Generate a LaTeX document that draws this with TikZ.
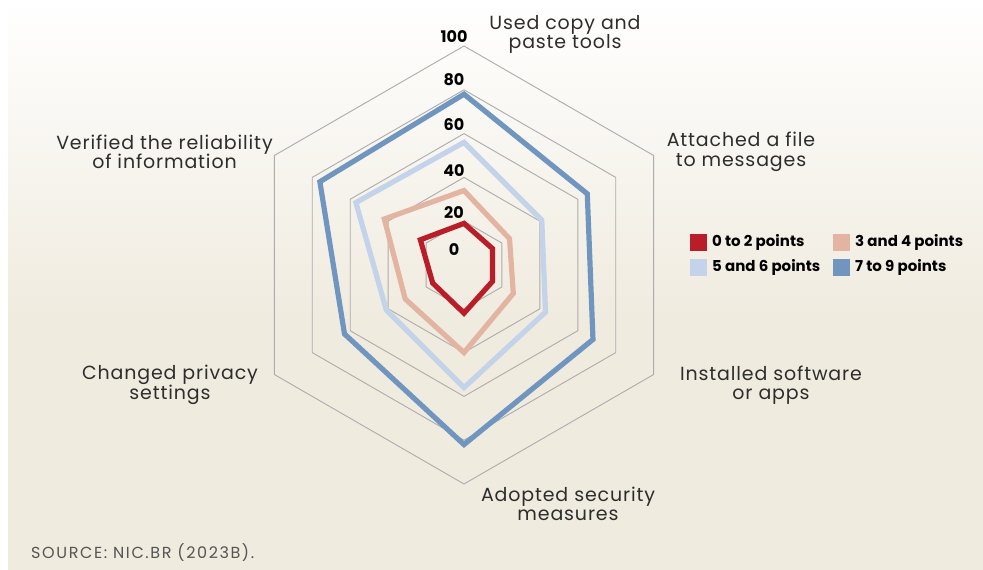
\documentclass[tikz,border=0pt]{standalone}
\usepackage{fontspec}
\setmainfont{Poppins}
\definecolor{bgbeige}{RGB}{240,235,223}
\definecolor{gridgrey}{RGB}{172,172,172}
\definecolor{cred}{RGB}{185,30,40}
\definecolor{cpink}{RGB}{228,180,163}
\definecolor{clblue}{RGB}{195,211,233}
\definecolor{cdblue}{RGB}{112,150,191}
\definecolor{labelgrey}{RGB}{45,45,45}
\definecolor{srcgrey}{RGB}{85,85,85}
\newcommand\radarpoly[7]{%
  \draw[series, draw=#1, shift={(464,305)}] (90:{#2*2.19}) -- (30:{#3*2.19}) -- (-30:{#4*2.19}) -- (-90:{#5*2.19}) -- (210:{#6*2.19}) -- (150:{#7*2.19}) -- cycle;}
\begin{document}
\begin{tikzpicture}[x=1pt,y=1pt,
  series/.style={line width=5.2pt, line join=miter},
  ring/.style={draw=gridgrey, line width=0.9pt},
  axislabel/.style={align=center, font=\addfontfeatures{LetterSpace=4.5}\fontsize{19}{19.5}\selectfont, text=labelgrey, inner sep=0pt},
  ticklabel/.style={font=\bfseries\fontsize{16}{16}\selectfont, inner sep=0pt},
  legendbox/.style={minimum size=17pt, inner sep=0pt},
  legendtext/.style={font=\bfseries\fontsize{15}{15}\selectfont, anchor=west, inner sep=0pt}]
\useasboundingbox (0,0) rectangle (983,570);
\fill[white] (0,0) rectangle (983,570);
\fill[bgbeige] (8,0) rectangle (983,251);
\shade[top color=white, bottom color=bgbeige] (8,250) rectangle (983,570);
\coordinate (O) at (464,305);
% grid rings
\foreach \r in {20,40,60,80,100}{
  \pgfmathsetmacro\rr{\r*2.19}
  \draw[ring, shift={(464,305)}] (90:\rr) -- (30:\rr) -- (-30:\rr) -- (-90:\rr) -- (210:\rr) -- (150:\rr) -- cycle;
}
% data
\radarpoly{cdblue}{78}{65}{68}{82}{63}{76}
\radarpoly{clblue}{56}{41}{43}{56}{41}{57}
\radarpoly{cpink}{34}{24}{26}{40}{31}{42}
\radarpoly{cred}{19}{15}{15}{22}{16.5}{23}
% tick labels
\node[ticklabel] (t100) at (454,533) {100};
\node[ticklabel] (t80) at (454,490) {80};
\node[ticklabel] (t60) at (454,445) {60};
\node[ticklabel] (t40) at (454,399) {40};
\node[ticklabel] (t20) at (454,357) {20};
\node[ticklabel] (t0) at (454,320) {0};
% axis labels
\node[axislabel] (a1) at (565,535.5) {Used copy and\\paste tools};
\node[axislabel] (a2) at (741,418) {Attached a file\\to messages};
\node[axislabel] (a3) at (771,185) {Installed software\\or apps};
\node[axislabel] (a4) at (568,66) {Adopted security\\measures};
\node[axislabel] (a5) at (170,185) {Changed privacy\\settings};
\node[axislabel] (a6) at (164.5,418) {Verified the reliability\\of information};
% legend
\node[legendbox, fill=cred] (l1) at (698.5,327.5) {};
\node[legendtext] (l1t) at (712,327.5) {0 to 2 points};
\node[legendbox, fill=cpink] (l2) at (841.5,327.5) {};
\node[legendtext] (l2t) at (855,327.5) {3 and 4 points};
\node[legendbox, fill=clblue] (l3) at (698.5,302.5) {};
\node[legendtext] (l3t) at (712,302.5) {5 and 6 points};
\node[legendbox, fill=cdblue] (l4) at (841.5,302.5) {};
\node[legendtext] (l4t) at (855,302.5) {7 to 9 points};
% source
\node[anchor=west, inner sep=0pt, text=srcgrey, font=\addfontfeatures{LetterSpace=10}\fontsize{16}{16}\selectfont] (src) at (31,17) {SOURCE: NIC.BR (2023B).};
\end{tikzpicture}
\end{document}
